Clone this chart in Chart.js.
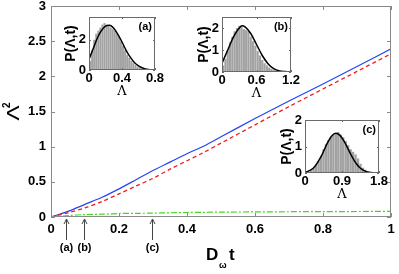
<!DOCTYPE html>
<html><head><meta charset="utf-8">
<script src="https://cdn.jsdelivr.net/npm/chart.js@4/dist/chart.umd.min.js"></script>
<style>
html,body{margin:0;padding:0;background:#fff;}
#wrap{position:relative;width:399px;height:274px;}
#wrap canvas{position:absolute;left:0;top:0;}
</style></head>
<body>
<div id="wrap">
<canvas id="main" width="399" height="274"></canvas>
<canvas id="ia" width="399" height="274"></canvas>
<canvas id="ib" width="399" height="274"></canvas>
<canvas id="ic" width="399" height="274"></canvas>
</div>
<script>
// ---- main chart data ----
const timeX = [0,0.05,0.1,0.15,0.2,0.25,0.3,0.35,0.4,0.45,0.5,0.6,0.7,0.8,0.9,1.0];
const blueY = [0,0.08,0.18,0.28,0.40,0.53,0.66,0.78,0.90,1.01,1.14,1.40,1.65,1.89,2.14,2.39];
const redY  = [0,0.06,0.13,0.22,0.33,0.44,0.55,0.68,0.80,0.92,1.05,1.31,1.57,1.82,2.07,2.32];
const greenY= [0,0.02,0.035,0.04,0.05,0.052,0.055,0.06,0.064,0.067,0.07,0.072,0.075,0.077,0.078,0.08];
const mainXTicks = [0,0.2,0.4,0.6,0.8,1];
const mainYTicks = [0,0.5,1,1.5,2,2.5,3];
const arrowX = [0.045,0.096,0.297];
const arrowLabels = ['(a)','(b)','(c)'];

// ---- inset (a) ----
const aBins = [0.0125,0.0375,0.0625,0.0875,0.1125,0.1375,0.1625,0.1875,0.2125,0.2375,0.2625,0.2875,0.3125,0.3375,0.3625,0.3875,0.4125,0.4375,0.4625,0.4875,0.5125,0.5375,0.5625,0.5875,0.6125,0.6375,0.6625,0.6875];
const aHist = [0.6,1.3,2.0,2.4,2.6,2.8,3.0,3.1,3.0,2.9,2.8,2.7,2.6,2.4,2.2,1.9,1.6,1.3,1.0,0.8,0.6,0.45,0.32,0.22,0.15,0.1,0.06,0.03];
const aCurveX = [0,0.05,0.1,0.15,0.2,0.25,0.3,0.35,0.4,0.45,0.5,0.55,0.6,0.65,0.7,0.75,0.8];
const aCurveY = [0.7,1.4,2.1,2.6,2.9,2.95,2.75,2.35,1.85,1.3,0.85,0.5,0.27,0.13,0.05,0.02,0.01];
const aXTicks = [0,0.4,0.8];
const aYTicks = [0,2];

// ---- inset (b) ----
const bBins = [0.02,0.06,0.10,0.14,0.18,0.22,0.26,0.30,0.34,0.38,0.42,0.46,0.50,0.54,0.58,0.62,0.66,0.70,0.74,0.78,0.82,0.86,0.90,0.94,0.98,1.02];
const bHist = [0.3,0.6,1.0,1.35,1.6,1.85,2.0,2.1,2.05,1.95,1.9,1.85,1.6,1.4,1.2,0.95,0.75,0.55,0.4,0.3,0.2,0.15,0.1,0.06,0.04,0.02];
const bCurveX = [0,0.1,0.2,0.3,0.35,0.4,0.5,0.6,0.7,0.8,0.9,1.0,1.1,1.2];
const bCurveY = [0.4,1.0,1.6,2.0,2.1,2.05,1.75,1.25,0.75,0.38,0.15,0.05,0.02,0.0];
const bXTicks = [0,0.6,1.2];
const bYTicks = [0,1,2];

// ---- inset (c) ----
const cBins = [0.03,0.09,0.15,0.21,0.27,0.33,0.39,0.45,0.51,0.57,0.63,0.69,0.75,0.81,0.87,0.93,0.99,1.05,1.11,1.17,1.23,1.29,1.35,1.41,1.47,1.53,1.59,1.65];
const cHist = [0.02,0.05,0.1,0.18,0.3,0.45,0.65,0.9,1.1,1.25,1.35,1.45,1.5,1.55,1.45,1.35,1.2,1.05,0.9,0.8,0.7,0.55,0.35,0.2,0.12,0.07,0.04,0.02];
const cCurveX = [0,0.2,0.4,0.55,0.65,0.75,0.85,0.95,1.05,1.15,1.25,1.35,1.45,1.55,1.7,1.8];
const cCurveY = [0.02,0.18,0.65,1.15,1.4,1.5,1.42,1.2,0.9,0.6,0.35,0.18,0.08,0.03,0.01,0];
const cXTicks = [0,0.9,1.8];
const cYTicks = [0,1,2];

const FONT = 'Liberation Sans, Arial, sans-serif';
const W = 399, H = 274;

function pts(xs, ys){ return xs.map((x,i)=>({x:x, y:ys[i]})); }

// ===== main chart =====
const box = {l:51, t:6, r:391, b:217};
const mainPlugin = {
  id:'mainDeco',
  afterDraw(chart){
    const ctx = chart.ctx, a = chart.chartArea, sx = chart.scales.x, sy = chart.scales.y;
    ctx.save();
    ctx.strokeStyle = '#8a8a8a'; ctx.lineWidth = 1;
    ctx.strokeRect(a.left+0.5, a.top+0.5, a.right-a.left-1, a.bottom-a.top-1);
    ctx.beginPath();
    mainXTicks.forEach(v=>{ const px = Math.round(sx.getPixelForValue(v))+0.5;
      ctx.moveTo(px,a.bottom); ctx.lineTo(px,a.bottom-4);
      ctx.moveTo(px,a.top); ctx.lineTo(px,a.top+4); });
    mainYTicks.forEach(v=>{ const py = Math.round(sy.getPixelForValue(v))+0.5;
      ctx.moveTo(a.left,py); ctx.lineTo(a.left+4,py);
      ctx.moveTo(a.right,py); ctx.lineTo(a.right-4,py); });
    ctx.stroke();
    // arrows
    ctx.strokeStyle = '#444'; ctx.fillStyle = '#000';
    arrowX.forEach((v,i)=>{
      const px = Math.round(sx.getPixelForValue(v))+0.5;
      ctx.beginPath(); ctx.moveTo(px, a.bottom+23); ctx.lineTo(px, a.bottom+2); ctx.stroke();
      ctx.beginPath(); ctx.moveTo(px-2.5, a.bottom+7); ctx.lineTo(px, a.bottom+2); ctx.lineTo(px+2.5, a.bottom+7); ctx.stroke();
      ctx.font = 'bold 11px '+FONT; ctx.textAlign='center'; ctx.textBaseline='alphabetic';
      ctx.fillText(arrowLabels[i], px, a.bottom+34);
    });
    // x title D_w t
    ctx.fillStyle = '#000'; ctx.textAlign='left';
    ctx.font = 'bold 17px '+FONT; ctx.fillText('D', 206, 260);
    ctx.font = 'bold 9px '+FONT; ctx.fillText('ω', 219, 268);
    ctx.font = 'bold 17px '+FONT; ctx.fillText('t', 229, 260);
    // y title Lambda^2
    ctx.translate(19, 113); ctx.rotate(-Math.PI/2);
    ctx.save(); ctx.scale(1.5,1);
    ctx.font = '15px DejaVu Sans'; ctx.textAlign='center';
    ctx.fillText('Λ', 0, 0); ctx.restore();
    ctx.font = 'bold 10px '+FONT; ctx.textAlign='left';
    ctx.fillText('2', 5, -9);
    ctx.restore();
  }
};

new Chart(document.getElementById('main'), {
  type:'line',
  data:{ datasets:[
    {data:pts(timeX,greenY), borderColor:'#3ddc14', borderWidth:1.2, borderDash:[6,2,2,2], pointRadius:0, tension:0.3},
    {data:pts(timeX,redY), borderColor:'#f01c1c', borderWidth:1.3, borderDash:[4,3], pointRadius:0, tension:0.3},
    {data:pts(timeX,blueY), borderColor:'#2544f2', borderWidth:1.2, pointRadius:0, tension:0.3}
  ]},
  options:{
    responsive:false, animation:false, events:[],
    layout:{padding:{left:0, top:box.t, right:W-box.r, bottom:0}},
    plugins:{legend:{display:false}, tooltip:{enabled:false}},
    scales:{
      x:{type:'linear', min:0, max:1,
        afterFit(s){ s.height = H-box.b; s.paddingLeft=0; s.paddingRight=0; },
        afterBuildTicks(s){ s.ticks = mainXTicks.map(v=>({value:v})); },
        grid:{display:false, drawTicks:false}, border:{display:false},
        ticks:{padding:5, color:'#000', font:{family:FONT, size:13, weight:'bold'}, maxRotation:0, callback:v=>String(v)}},
      y:{type:'linear', min:0, max:3,
        afterFit(s){ s.width = box.l; s.paddingTop=0; s.paddingBottom=0; },
        afterBuildTicks(s){ s.ticks = mainYTicks.map(v=>({value:v})); },
        grid:{display:false, drawTicks:false}, border:{display:false},
        ticks:{padding:5, color:'#000', font:{family:FONT, size:13, weight:'bold'}, callback:v=>String(v)}}
    }
  },
  plugins:[mainPlugin]
});

// ===== insets =====
function makeInset(id, b, bins, hist, cx, cy, xt, yt, xmax, ymax, tag){
  const YW = 20, XH = 22;
  const deco = {
    id:'insetDeco'+tag,
    beforeDatasetsDraw(chart){
      const ctx = chart.ctx, a = chart.chartArea;
      ctx.save(); ctx.fillStyle='#fff'; ctx.fillRect(a.left,a.top,a.right-a.left,a.bottom-a.top); ctx.restore();
    },
    afterDraw(chart){
      const ctx = chart.ctx, a = chart.chartArea, sx = chart.scales.x, sy = chart.scales.y;
      ctx.save();
      ctx.strokeStyle = '#6a6a6a'; ctx.lineWidth = 1;
      ctx.strokeRect(a.left+0.5, a.top+0.5, a.right-a.left-1, a.bottom-a.top-1);
      ctx.beginPath();
      xt.forEach(v=>{ const px = Math.round(sx.getPixelForValue(v))+0.5;
        ctx.moveTo(px,a.bottom); ctx.lineTo(px,a.bottom-2); ctx.moveTo(px,a.top); ctx.lineTo(px,a.top+2); });
      yt.forEach(v=>{ const py = Math.round(sy.getPixelForValue(v))+0.5;
        ctx.moveTo(a.left,py); ctx.lineTo(a.left+2,py); ctx.moveTo(a.right,py); ctx.lineTo(a.right-2,py); });
      ctx.stroke();
      ctx.fillStyle = '#000';
      ctx.font = 'bold 11px '+FONT; ctx.textAlign='right'; ctx.textBaseline='alphabetic';
      ctx.fillText('('+tag+')', a.right-3, a.top+13);
      ctx.font = '13px DejaVu Serif'; ctx.textAlign='center';
      ctx.fillText('Λ', (a.left+a.right)/2, a.bottom+25);
      ctx.translate(a.left-14, (a.top+a.bottom)/2); ctx.rotate(-Math.PI/2);
      ctx.font = 'bold 14px '+FONT; ctx.textAlign='center';
      ctx.fillText('P(Λ,t)', 0, 0);
      ctx.restore();
    }
  };
  new Chart(document.getElementById(id), {
    type:'bar',
    data:{ datasets:[
      {type:'line', data:pts(cx,cy), borderColor:'#000', borderWidth:1.5, pointRadius:0, cubicInterpolationMode:'monotone', order:0},
      {type:'bar', data:pts(bins,hist), backgroundColor:'#a2a2a2', borderWidth:0, barPercentage:0.95, categoryPercentage:1, order:1}
    ]},
    options:{
      responsive:false, animation:false, events:[],
      layout:{padding:{left:b.l-YW, top:b.t, right:W-b.r, bottom:H-b.b-XH}},
      plugins:{legend:{display:false}, tooltip:{enabled:false}},
      scales:{
        x:{type:'linear', min:0, max:xmax, offset:false,
          afterFit(s){ s.height = XH; s.paddingLeft=0; s.paddingRight=0; },
          afterBuildTicks(s){ s.ticks = xt.map(v=>({value:v})); },
          grid:{display:false, drawTicks:false, offset:false}, border:{display:false},
          ticks:{padding:1, color:'#000', font:{family:FONT, size:13, weight:'bold'}, maxRotation:0, callback:v=>String(v)}},
        y:{type:'linear', min:0, max:ymax,
          afterFit(s){ s.width = YW; s.paddingTop=0; s.paddingBottom=0; },
          afterBuildTicks(s){ s.ticks = yt.map(v=>({value:v})); },
          grid:{display:false, drawTicks:false}, border:{display:false},
          ticks:{padding:3, color:'#000', font:{family:FONT, size:13, weight:'bold'}, callback:v=>String(v)}}
      }
    },
    plugins:[deco]
  });
}

makeInset('ia', {l:89,t:17,r:155,b:70}, aBins, aHist, aCurveX, aCurveY, aXTicks, aYTicks, 0.8, 3.5, 'a');
makeInset('ib', {l:222,t:17,r:291,b:72}, bBins, bHist, bCurveX, bCurveY, bXTicks, bYTicks, 1.2, 2.5, 'b');
makeInset('ic', {l:305,t:120,r:379,b:173}, cBins, cHist, cCurveX, cCurveY, cXTicks, cYTicks, 1.8, 2.0, 'c');
</script>
</body></html>
